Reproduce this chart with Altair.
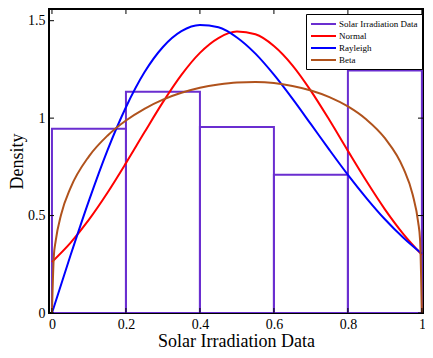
import altair as alt
import pandas as pd

# ---- data ----
series_names = ["Solar Irradiation Data", "Normal", "Rayleigh", "Beta"]
series_colors = ["#6A2ED0", "#FF0000", "#0000FF", "#B0521C"]

bin_start = [0.0, 0.2, 0.4, 0.6, 0.8]
bin_end = [0.2, 0.4, 0.6, 0.8, 1.0]
bin_density = [0.945, 1.135, 0.955, 0.71, 1.245]

curve_x = [0.0, 0.05, 0.1, 0.15, 0.2, 0.25, 0.3, 0.35, 0.4, 0.45, 0.5,
           0.55, 0.6, 0.65, 0.7, 0.75, 0.8, 0.85, 0.9, 0.95, 1.0]
normal_y = [0.262, 0.360, 0.479, 0.617, 0.769, 0.927, 1.082, 1.222, 1.335, 1.411, 1.444,
            1.430, 1.370, 1.271, 1.140, 0.990, 0.832, 0.677, 0.532, 0.405, 0.299]
rayleigh_y = [0.0, 0.295, 0.577, 0.835, 1.056, 1.235, 1.365, 1.446, 1.478, 1.466, 1.414,
              1.331, 1.223, 1.100, 0.969, 0.837, 0.709, 0.590, 0.481, 0.386, 0.304]

beta_x = [0.0, 0.005, 0.01, 0.025, 0.05, 0.1, 0.15, 0.2, 0.25, 0.3, 0.35, 0.4, 0.45, 0.5,
          0.55, 0.6, 0.65, 0.7, 0.75, 0.8, 0.85, 0.9, 0.95, 0.975, 0.99, 0.995, 1.0]
beta_y = [0.0, 0.290, 0.369, 0.507, 0.641, 0.804, 0.910, 0.988, 1.048, 1.095, 1.130, 1.156,
          1.173, 1.183, 1.185, 1.180, 1.165, 1.142, 1.108, 1.060, 0.993, 0.897, 0.742,
          0.608, 0.465, 0.378, 0.0]

x_ticks = [0, 0.2, 0.4, 0.6, 0.8, 1.0]
y_ticks = [0, 0.5, 1.0, 1.5]
x_domain = [-0.008, 1.003]
y_domain = [0, 1.56]

W, H = 374, 304
FONT = "Liberation Serif"

hist = pd.DataFrame({"x0": bin_start, "x1": bin_end, "y": bin_density,
                     "series": series_names[0]})
curves = pd.concat([
    pd.DataFrame({"x": curve_x, "y": normal_y, "series": "Normal"}),
    pd.DataFrame({"x": curve_x, "y": rayleigh_y, "series": "Rayleigh"}),
    pd.DataFrame({"x": beta_x, "y": beta_y, "series": "Beta"}),
], ignore_index=True)

xs = alt.Scale(domain=x_domain, nice=False, zero=False)
ys = alt.Scale(domain=y_domain, nice=False)
color = alt.Color(
    "series:N",
    scale=alt.Scale(domain=series_names, range=series_colors),
    sort=series_names,
    legend=alt.Legend(
        title=None, orient="none", legendX=257, legendY=5,
        symbolType="M-1,0H4", symbolSize=100, symbolStrokeWidth=2,
        symbolFillColor="transparent",
        labelFont=FONT, labelFontSize=9, labelFontWeight="normal", labelColor="black",
        labelOffset=17, strokeColor="black", padding=4, rowPadding=1,
        fillColor="white",
    ),
)

lbl = "datum.value == 0 ? '0' : datum.value == 1 ? '1' : format(datum.value, '.1f')"
x_axis = alt.Axis(values=x_ticks, title="Solar Irradiation Data", tickSize=0, domain=False,
                  grid=False, labelPadding=4, titlePadding=1, labelFlush=True,
                  labelExpr=lbl)
y_axis = alt.Axis(values=y_ticks, title="Density", tickSize=0, domain=False,
                  grid=False, labelPadding=4, titlePadding=1,
                  labelExpr=lbl)

bars = alt.Chart(hist).mark_rect(filled=False, strokeWidth=2, clip=True).encode(
    x=alt.X("x0:Q", scale=xs, axis=x_axis),
    x2="x1:Q",
    y=alt.Y("y:Q", scale=ys, axis=y_axis),
    y2=alt.datum(0),
    color=color,
)

lines = alt.Chart(curves).mark_line(strokeWidth=2, interpolate="monotone", clip=True).encode(
    x=alt.X("x:Q", scale=xs),
    y=alt.Y("y:Q", scale=ys),
    color=color,
    detail="series:N",
)

xt = pd.DataFrame({"v": x_ticks})
yt = pd.DataFrame({"v": y_ticks})
tick_bottom = alt.Chart(xt).mark_rule(color="black", strokeWidth=1).encode(
    x=alt.X("v:Q", scale=xs), y=alt.value(H), y2=alt.value(H - 5))
tick_top = alt.Chart(xt).mark_rule(color="black", strokeWidth=1).encode(
    x=alt.X("v:Q", scale=xs), y=alt.value(0), y2=alt.value(5))
tick_left = alt.Chart(yt).mark_rule(color="black", strokeWidth=1).encode(
    y=alt.Y("v:Q", scale=ys), x=alt.value(0), x2=alt.value(5))
tick_right = alt.Chart(yt).mark_rule(color="black", strokeWidth=1).encode(
    y=alt.Y("v:Q", scale=ys), x=alt.value(W), x2=alt.value(W - 5))

chart = alt.layer(bars, lines, tick_bottom, tick_top, tick_left, tick_right).properties(
    width=W, height=H,
    autosize=alt.AutoSizeParams(type="none"),
    padding={"left": 41, "top": 1, "right": 2, "bottom": 37},
    background="white",
).configure_view(
    stroke="black", strokeWidth=2,
).configure_axis(
    labelFont=FONT, labelFontSize=14, labelColor="black",
    titleFont=FONT, titleFontSize=18, titleFontWeight="normal", titleColor="black",
)

chart.save("out.html", embed_options={"renderer": "svg", "actions": False})
